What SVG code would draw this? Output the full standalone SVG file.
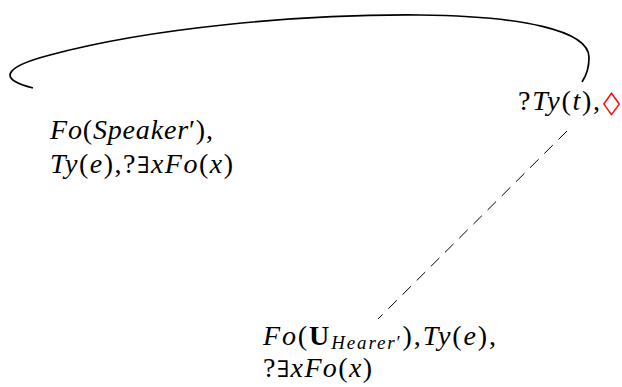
<svg xmlns="http://www.w3.org/2000/svg" width="622" height="387" viewBox="0 0 622 387">
<style>
text{font-family:'Liberation Serif','Times New Roman',serif;font-size:28px;fill:#000;font-style:italic}
.u{font-style:normal}
.b{font-style:normal;font-weight:bold}
.s{font-size:19px}
.e{font-family:'DejaVu Serif',serif;font-style:normal;font-size:23px}
.red{fill:#ff0000;font-style:normal;font-family:'DejaVu Sans',sans-serif;font-size:31px}
.edge{fill:none;stroke:#000}
</style>
<g id="connectors">
<path class="edge" stroke-width="1.7" d="M 33 88 C 0 80, 0 68, 50 55 C 150 28, 300 14, 420 15 C 520 16, 590 30, 589 58 C 589 68, 586 76, 582 82"/>
<line class="edge" x1="567" y1="131" x2="378" y2="319" stroke-width="1" stroke-dasharray="12 8"/>
</g>
<g id="node-root">
<text x="518" y="110" textLength="82" lengthAdjust="spacing"><tspan class="u">?</tspan>Ty<tspan class="u">(</tspan>t<tspan class="u">),</tspan></text>
<text class="red" transform="translate(603,112) scale(0.72,1)" x="0" y="0">◇</text>
</g>
<g id="node-speaker">
<text x="50" y="139" textLength="163" lengthAdjust="spacing">Fo<tspan class="u">(</tspan>Speaker<tspan class="u">′),</tspan></text>
<text x="50" y="173" textLength="183" lengthAdjust="spacing">Ty<tspan class="u">(</tspan>e<tspan class="u">),?</tspan><tspan class="e">∃</tspan>xFo<tspan class="u">(</tspan>x<tspan class="u">)</tspan></text>
</g>
<g id="node-hearer">
<text x="263" y="345" textLength="233" lengthAdjust="spacing">Fo<tspan class="u">(</tspan><tspan class="b">U</tspan><tspan class="s" dy="4">Hearer<tspan class="u">′</tspan></tspan><tspan class="u" dy="-4">),</tspan>Ty<tspan class="u">(</tspan>e<tspan class="u">),</tspan></text>
<text x="263" y="377" textLength="109" lengthAdjust="spacing"><tspan class="u">?</tspan><tspan class="e">∃</tspan>xFo<tspan class="u">(</tspan>x<tspan class="u">)</tspan></text>
</g>
</svg>
